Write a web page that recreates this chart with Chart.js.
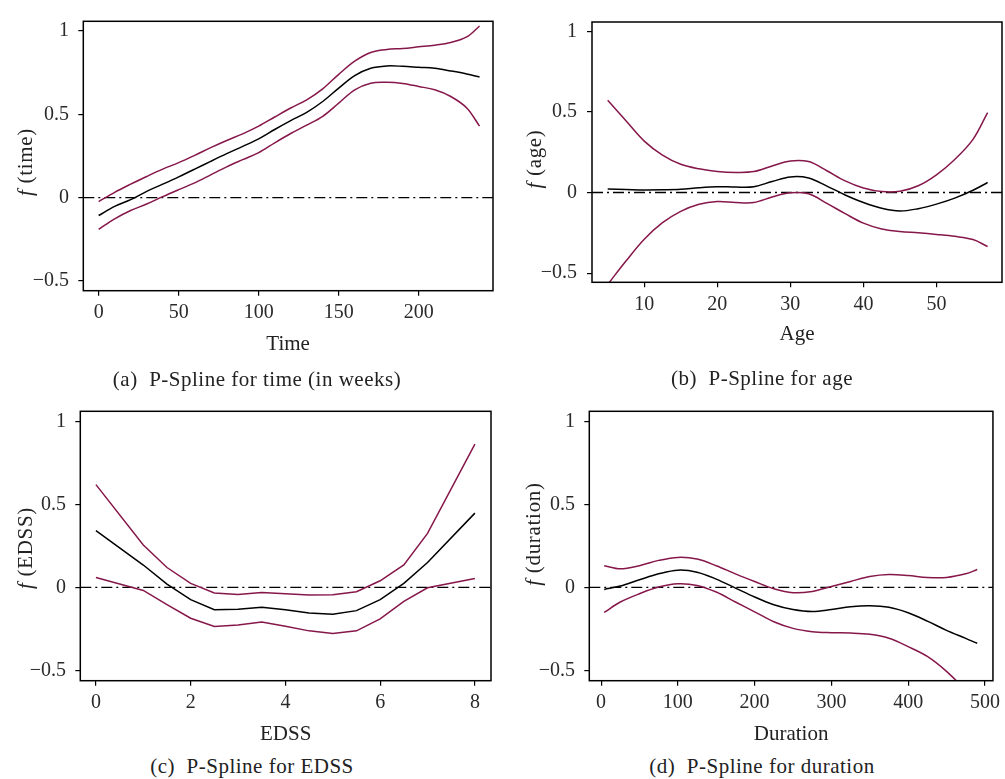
<!DOCTYPE html>
<html><head><meta charset="utf-8">
<script src="https://cdn.jsdelivr.net/npm/chart.js@4.4.1/dist/chart.umd.min.js"></script>
<style>
html,body{margin:0;padding:0;background:#fff;}
body{width:1005px;height:779px;position:relative;overflow:hidden;font-family:"Liberation Serif",serif;color:#222;}
canvas{position:absolute;}
.cap{position:absolute;font-size:21px;line-height:24px;white-space:pre;transform:translateX(-50%);letter-spacing:0.5px;}
.yt{position:absolute;font-size:21px;line-height:24px;white-space:pre;transform:translate(-50%,-50%) rotate(-90deg);letter-spacing:0.7px;}
</style></head><body>
<canvas id="ca" width="500" height="360" style="left:0;top:0"></canvas>
<canvas id="cb" width="505" height="360" style="left:500px;top:0"></canvas>
<canvas id="cc" width="500" height="360" style="left:0;top:390px"></canvas>
<canvas id="cd" width="505" height="360" style="left:500px;top:390px"></canvas>

<div class="yt" style="left:25px;top:162px"><i>f</i> (time)</div>
<div class="yt" style="left:534px;top:159px"><i>f</i> (age)</div>
<div class="yt" style="left:25px;top:548px"><i>f</i> (EDSS)</div>
<div class="yt" style="left:533px;top:534px"><i>f</i> (duration)</div>

<div class="cap" style="left:257px;top:367px">(a)  P-Spline for time (in weeks)</div>
<div class="cap" style="left:762px;top:366px">(b)  P-Spline for age</div>
<div class="cap" style="left:252px;top:754px">(c)  P-Spline for EDSS</div>
<div class="cap" style="left:762px;top:754px">(d)  P-Spline for duration</div>

<script>
// ---------- data ----------
const yTicks = [-0.5, 0, 0.5, 1];

const timeX     = [0,10,20,30,40,50,60,70,80,90,100,110,120,130,140,150,160,170,180,190,200,210,220,230,238];
const timeFit   = [-0.107,-0.052,-0.012,0.038,0.081,0.125,0.171,0.218,0.264,0.308,0.353,0.409,0.462,0.512,0.577,0.657,0.732,0.776,0.790,0.788,0.782,0.776,0.760,0.742,0.724];
const timeUpper = [-0.024,0.032,0.081,0.127,0.171,0.210,0.254,0.300,0.343,0.383,0.429,0.484,0.538,0.587,0.653,0.740,0.819,0.871,0.889,0.895,0.905,0.915,0.931,0.964,1.030];
const timeLower = [-0.190,-0.127,-0.077,-0.038,0.006,0.048,0.089,0.137,0.185,0.228,0.270,0.329,0.385,0.435,0.488,0.567,0.647,0.687,0.692,0.685,0.667,0.647,0.607,0.538,0.429];
const timeTicks = [0,50,100,150,200];

const ageX     = [5,7.5,10,12.5,15,17.5,20,22.5,25,27.5,30,32.5,35,37.5,40,42.5,45,47.5,50,52.5,55,57];
const ageFit   = [0.022,0.019,0.016,0.017,0.020,0.030,0.036,0.034,0.036,0.068,0.097,0.090,0.040,-0.015,-0.062,-0.098,-0.115,-0.100,-0.072,-0.035,0.014,0.062];
const ageUpper = [0.573,0.445,0.319,0.232,0.175,0.147,0.131,0.125,0.130,0.165,0.196,0.192,0.135,0.072,0.028,0.006,0.008,0.042,0.110,0.205,0.330,0.496];
const ageLower = [-0.570,-0.425,-0.290,-0.187,-0.117,-0.073,-0.056,-0.062,-0.062,-0.028,-0.002,-0.008,-0.067,-0.131,-0.190,-0.226,-0.242,-0.250,-0.260,-0.272,-0.292,-0.335];
const ageTicks = [10,20,30,40,50];

const edssX     = [0,1,1.5,2,2.5,3,3.5,4,4.5,5,5.5,6,6.5,7,8];
const edssFit   = [0.342,0.135,0.020,-0.074,-0.134,-0.131,-0.120,-0.135,-0.154,-0.162,-0.140,-0.074,0.024,0.150,0.448];
const edssUpper = [0.620,0.256,0.120,0.024,-0.034,-0.042,-0.030,-0.038,-0.046,-0.044,-0.026,0.040,0.136,0.326,0.864];
const edssLower = [0.060,-0.018,-0.104,-0.186,-0.236,-0.226,-0.208,-0.234,-0.262,-0.278,-0.262,-0.190,-0.084,-0.002,0.054];
const edssTicks = [0,2,4,6,8];

const durX     = [4,25,50,75,100,125,150,175,200,225,250,275,300,325,350,375,400,425,450,475,490];
const durFit   = [-0.012,0.008,0.046,0.082,0.104,0.092,0.050,-0.004,-0.058,-0.104,-0.133,-0.145,-0.133,-0.116,-0.110,-0.120,-0.153,-0.203,-0.259,-0.307,-0.337];
const durUpper = [0.131,0.112,0.131,0.163,0.181,0.171,0.131,0.082,0.036,-0.008,-0.032,-0.024,0.006,0.036,0.066,0.078,0.072,0.060,0.060,0.082,0.108];
const durLower = [-0.151,-0.088,-0.038,0.002,0.022,0.012,-0.028,-0.088,-0.147,-0.207,-0.247,-0.267,-0.273,-0.275,-0.283,-0.307,-0.357,-0.416,-0.506,-0.620,-0.690];
const durTicks = [0,100,200,300,400,500];

// ---------- drawing ----------
const FONT = '"Liberation Serif", serif';
const MAROON = '#86174a';

const boxPlugin = {
  id: 'box',
  beforeDatasetsDraw(chart) {
    const {ctx, chartArea: a, scales: {y}} = chart;
    const py = y.getPixelForValue(0);
    ctx.save();
    ctx.strokeStyle = '#000'; ctx.lineWidth = 1.3;
    ctx.setLineDash([11, 4, 2, 4]);
    ctx.beginPath(); ctx.moveTo(a.left, py); ctx.lineTo(a.right, py); ctx.stroke();
    ctx.restore();
  },
  afterDatasetsDraw(chart) {
    const {ctx, chartArea: a} = chart;
    ctx.save();
    ctx.strokeStyle = '#000'; ctx.lineWidth = 1.5;
    ctx.strokeRect(a.left, a.top, a.right - a.left, a.bottom - a.top);
    ctx.restore();
  }
};

function fmt(v) { return v < 0 ? '\u2212' + Math.abs(v) : String(v); }
function pts(xs, ys) { return xs.map((x, i) => ({x: x, y: ys[i]})); }

function panel(id, xs, fit, up, lo, g) {
  const line = (data, color) => ({
    data: pts(xs, data), borderColor: color, borderWidth: 1.5,
    pointRadius: 0, tension: g.tension, fill: false
  });
  new Chart(document.getElementById(id), {
    type: 'line',
    data: { datasets: [line(up, MAROON), line(lo, MAROON), line(fit, '#000')] },
    options: {
      responsive: false, animation: false,
      layout: { padding: { left: 0, right: g.padR, top: g.padT, bottom: 0 } },
      plugins: { legend: { display: false }, tooltip: { enabled: false } },
      scales: {
        x: {
          type: 'linear', min: g.xmin, max: g.xmax,
          afterBuildTicks: s => { s.ticks = g.xticks.map(v => ({value: v})); },
          afterFit: s => { s.height = g.xh; },
          border: { display: false },
          grid: { display: true, drawOnChartArea: false, drawTicks: true, tickLength: 5, color: '#000', lineWidth: 1.2 },
          ticks: { font: { size: 20, family: FONT }, color: '#2a2a2a', padding: 5, maxRotation: 0, callback: v => fmt(v) },
          title: { display: true, text: g.title, font: { size: 21, family: FONT }, color: '#222', padding: { top: 0, bottom: g.titlePad } }
        },
        y: {
          type: 'linear', min: g.ymin, max: g.ymax,
          afterBuildTicks: s => { s.ticks = yTicks.map(v => ({value: v})); },
          afterFit: s => { s.width = g.yw; },
          border: { display: false },
          grid: { display: true, drawOnChartArea: false, drawTicks: true, tickLength: 5, color: '#000', lineWidth: 1.2 },
          ticks: { font: { size: 20, family: FONT }, color: '#2a2a2a', padding: g.ypad, callback: v => fmt(v) }
        }
      }
    },
    plugins: [boxPlugin]
  });
}

panel('ca', timeX, timeFit, timeUpper, timeLower,
  { xmin: -9.6, xmax: 246.4, ymin: -0.558, ymax: 1.058, xticks: timeTicks, title: 'Time',
    padR: 7, padT: 19.3, yw: 83.3, xh: 69.3, titlePad: 2.8, ypad: 9.3, tension: 0.35 });
panel('cb', ageX, ageFit, ageUpper, ageLower,
  { xmin: 2.85, xmax: 58.97, ymin: -0.557, ymax: 1.058, xticks: ageTicks, title: 'Age',
    padR: 3, padT: 11, yw: 92, xh: 77.7, titlePad: 12.5, ypad: 10, tension: 0.35 });
panel('cc', edssX, edssFit, edssUpper, edssLower,
  { xmin: -0.33, xmax: 8.34, ymin: -0.5625, ymax: 1.062, xticks: edssTicks, title: 'EDSS',
    padR: 9, padT: 19.3, yw: 80.3, xh: 69.3, titlePad: 2.8, ypad: 9.3, tension: 0 });
panel('cd', durX, durFit, durUpper, durLower,
  { xmin: -15.4, xmax: 510.5, ymin: -0.5625, ymax: 1.062, xticks: durTicks, title: 'Duration',
    padR: 6, padT: 19.3, yw: 89.3, xh: 69.3, titlePad: 2.8, ypad: 9.3, tension: 0.35 });
</script>
</body></html>
